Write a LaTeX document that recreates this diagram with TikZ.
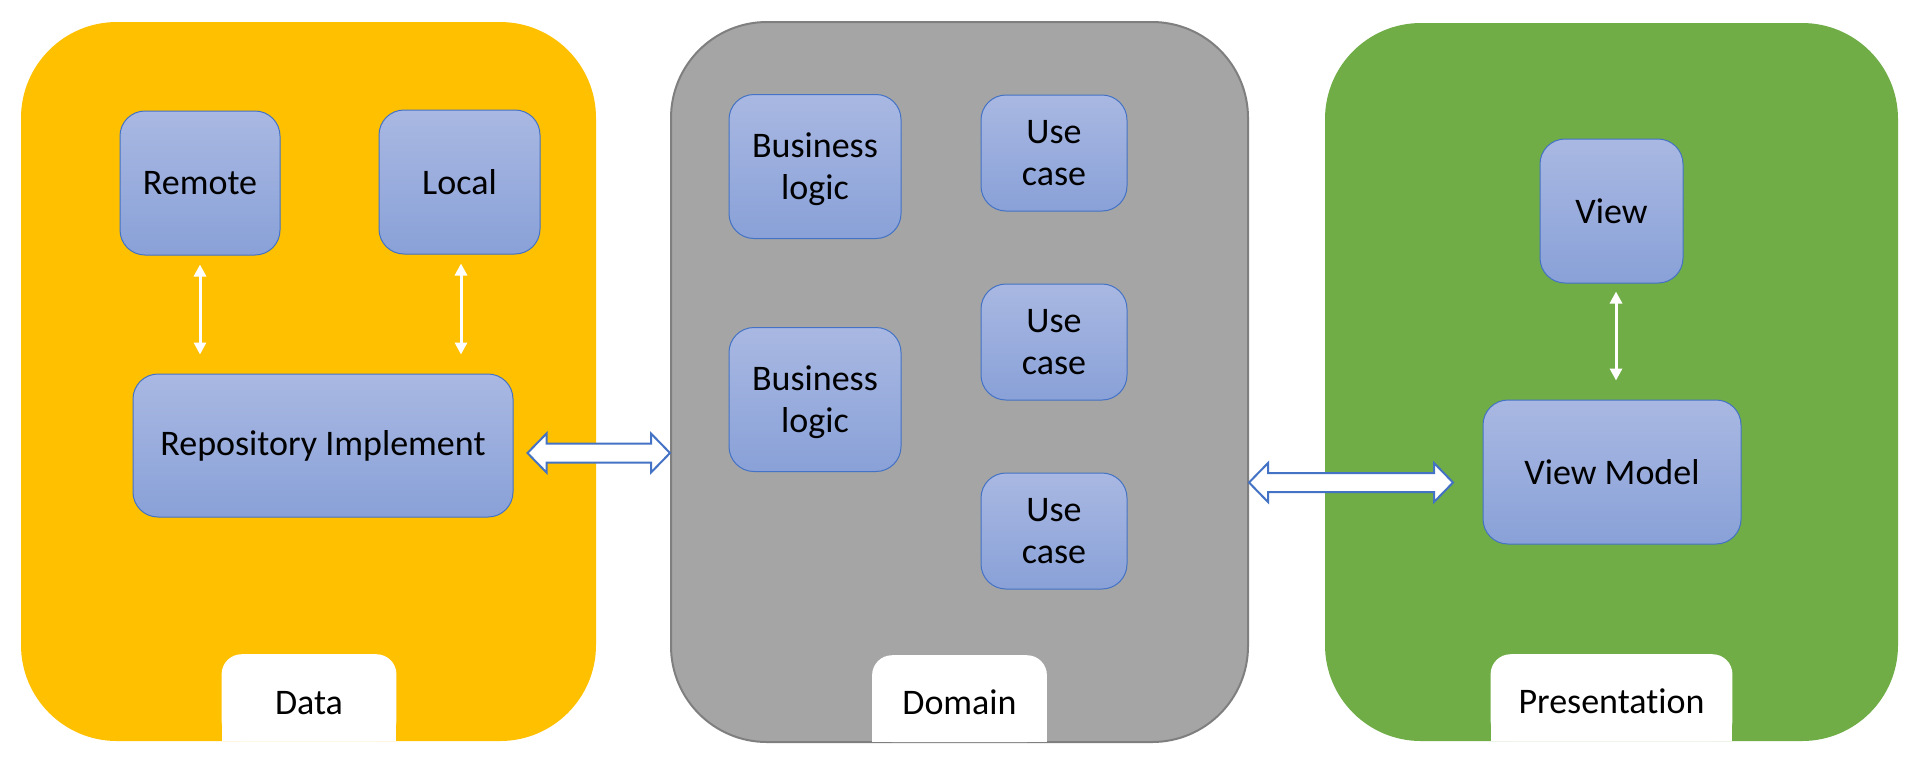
\documentclass[tikz,border=0pt]{standalone}
\usepackage{fontspec}
\setmainfont{Carlito}[Ligatures=NoCommon]
\usetikzlibrary{arrows.meta,calc}
\definecolor{dataY}{HTML}{FFC000}
\definecolor{domG}{HTML}{A5A5A5}
\definecolor{domB}{HTML}{7F7F7F}
\definecolor{presG}{HTML}{70AD47}
\definecolor{boxTop}{RGB}{169,184,226}
\definecolor{boxBot}{RGB}{137,161,216}
\definecolor{boxLine}{HTML}{4472C4}
\begin{document}
\begin{tikzpicture}[x=0.5pt,y=-0.5pt,
  panel/.style={rectangle, rounded corners=48pt, inner sep=0pt},
  comp/.style={rectangle, rounded corners=12.5pt, top color=boxTop, bottom color=boxBot,
    draw=boxLine, line width=0.5pt, inner sep=0pt, align=center,
    font=\fontsize{18pt}{21pt}\selectfont, text=black},
  twoline/.style={text depth=-0.5pt},
  tabnode/.style={rectangle, inner sep=0pt, minimum height=43pt, anchor=south},
  lbl/.style={font=\fontsize{18pt}{21pt}\selectfont, inner sep=0pt, text=black},
  wire/.style={draw=white, line width=1.5pt, >={Triangle[length=6pt,width=6pt]}, <->},
  bigarrow/.style={fill=white, draw=boxLine, line width=1pt, line join=miter},
]
\fill[white] (0,0) rectangle (1920,768);
\useasboundingbox (0,0) rectangle (1920,768);

% panels
\node[panel, fill=dataY, minimum width=287.5pt, minimum height=359.5pt] (data) at (308.5,381.5) {};
\node[panel, fill=domG, draw=domB, line width=1pt, minimum width=288.5pt, minimum height=360pt] (domain) at (959.5,382) {};
\node[panel, fill=presG, minimum width=286.5pt, minimum height=359pt] (pres) at (1611.5,382) {};

% tabs
\node[tabnode, minimum width=87pt] (datatab) at (309,741) {};
\node[tabnode, minimum width=87pt] (domtab) at (959.5,742) {};
\node[tabnode, minimum width=120.5pt] (prestab) at (1611.5,741) {};
\foreach \t in {datatab,domtab,prestab}{
  \fill[white, rounded corners=10pt] (\t.north west) rectangle (\t.south east);
  \fill[white] (\t.west) rectangle (\t.south east);
}
\node[lbl] (datalbl) at ($(datatab.center)+(0,5)$) {Data};
\node[lbl] (domlbl) at ($(domtab.center)+(0,4)$) {Domain};
\node[lbl] (preslbl) at ($(prestab.center)+(0,4)$) {Presentation};

% data components
\node[comp, minimum width=80pt, minimum height=72pt] (remote) at (200,183) {Remote};
\node[comp, minimum width=80.5pt, minimum height=72pt] (local) at (459.5,182) {Local};
\node[comp, minimum width=190pt, minimum height=71.5pt] (repo) at (323,445.5) {Repository Implement};

% domain components
\node[comp, twoline, minimum width=86pt, minimum height=72pt] (bl1) at (815,166.5) {Business\\logic};
\node[comp, twoline, minimum width=86pt, minimum height=72pt] (bl2) at (815,399.5) {Business\\logic};
\node[comp, minimum width=73pt, minimum height=58pt] (uc1) at (1054,153) {Use\\case};
\node[comp, minimum width=73pt, minimum height=58pt] (uc2) at (1054,342) {Use\\case};
\node[comp, minimum width=73pt, minimum height=58pt] (uc3) at (1054,531) {Use\\case};

% presentation components
\node[comp, minimum width=71.5pt, minimum height=72pt] (view) at (1611.5,211) {View};
\node[comp, minimum width=129pt, minimum height=72pt] (vm) at (1612,472) {View Model};

% small white arrows
\draw[wire] ($(remote.south)+(0,9)$) -- ($(remote.south |- repo.north)+(0,-19)$);
\draw[wire] ($(local.south)+(1.5,9)$) -- ($(local.south |- repo.north)+(1.5,-19)$);
\draw[wire] ($(view.south)+(4.5,8)$) -- ($(view.south |- vm.north)+(4.5,-19)$);

% big double arrows
\coordinate (a1l) at ($(repo.east)+(14,7.5)$);
\coordinate (a1r) at (domain.west |- a1l);
\draw[bigarrow] (a1l) -- ++(19,-19.5) -- ++(0,10) -- ($(a1r)+(-19,-9.5)$) -- ++(0,-10) -- (a1r)
  -- ++(-19,19.5) -- ++(0,-10) -- ($(a1l)+(19,9.5)$) -- ++(0,10) -- cycle;
\coordinate (a2r) at ($(vm.west)+(-29.5,10.5)$);
\coordinate (a2l) at (domain.east |- a2r);
\draw[bigarrow] (a2l) -- ++(19,-19.5) -- ++(0,10) -- ($(a2r)+(-19,-9.5)$) -- ++(0,-10) -- (a2r)
  -- ++(-19,19.5) -- ++(0,-10) -- ($(a2l)+(19,9.5)$) -- ++(0,10) -- cycle;
\end{tikzpicture}
\end{document}
